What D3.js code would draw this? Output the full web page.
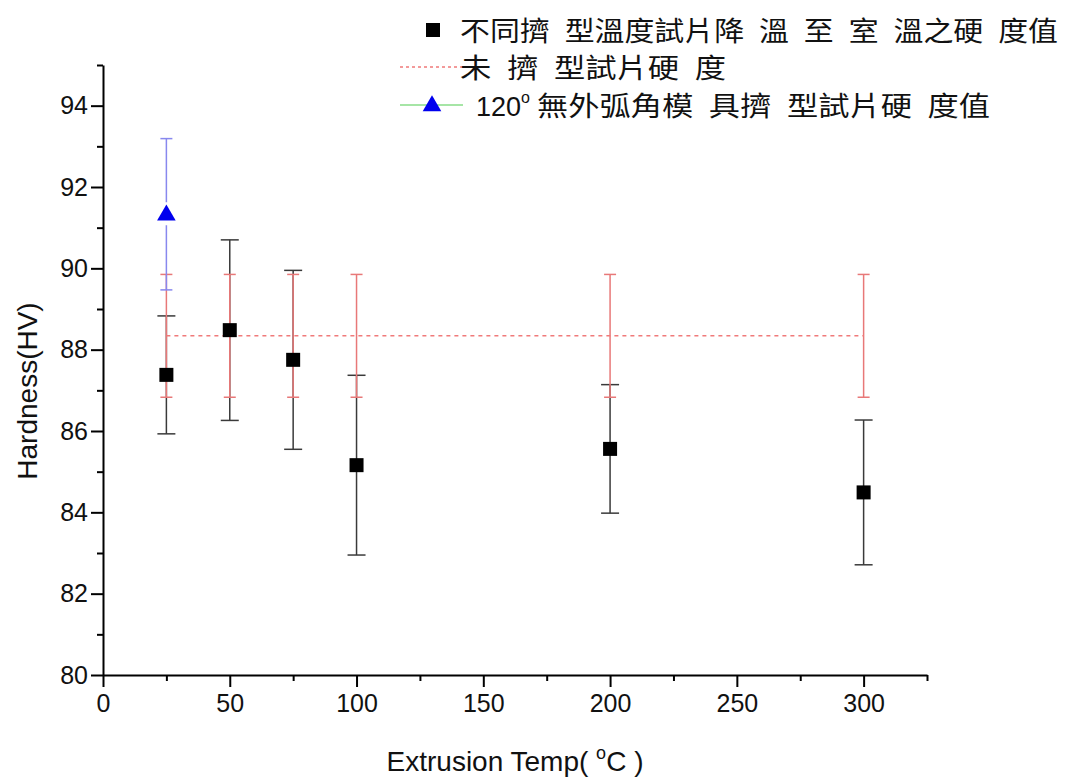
<!DOCTYPE html>
<html><head><meta charset="utf-8">
<script src="https://cdn.jsdelivr.net/npm/d3@7"></script>
<style>
body{margin:0;background:#fff;}
svg{display:block;font-family:"Liberation Sans",Arial,sans-serif;}
</style></head>
<body><svg id="chart" width="1082" height="779"></svg>
<script>
// ---- data ----
const temps = [25, 50, 75, 100, 200, 300];
const hardness = [87.38, 88.48, 87.75, 85.16, 85.56, 84.49];
const hardnessErr = [1.45, 2.22, 2.2, 2.21, 1.58, 1.78];
const baseTemps = [25, 50, 75, 100, 200, 300];
const baseHardness = 88.34;
const baseErr = 1.51;
const dieTemps = [25];
const dieHardness = [91.33];
const dieErr = [1.86];
const xTickVals = [0, 50, 100, 150, 200, 250, 300];
const xMinorVals = [25, 75, 125, 175, 225, 275, 325];
const yTickVals = [80, 82, 84, 86, 88, 90, 92, 94];
const yMinorVals = [81, 83, 85, 87, 89, 91, 93, 95];
const legendLabels = [
  "不同擠\u2002型溫度試片降\u2002溫\u2002至\u2002室\u2002溫之硬\u2002度值",
  "未\u2002擠\u2002型試片硬\u2002度",
  "無外弧角模\u2002具擠\u2002型試片硬\u2002度值"
];

const svg = d3.select("#chart");
const x = d3.scaleLinear().domain([0, 325]).range([103, 927]);
const y = d3.scaleLinear().domain([80, 95]).range([675, 65]);

// axes
svg.append("g").attr("transform", `translate(0,${y(80)})`)
  .call(d3.axisBottom(x).tickValues(xTickVals).tickSize(12).tickSizeOuter(0).tickPadding(7));
const xMinor = svg.append("g").attr("transform", `translate(0,${y(80)})`)
  .call(d3.axisBottom(x).tickValues(xMinorVals).tickSize(6).tickFormat(""));
xMinor.select(".domain").remove();
svg.append("g").attr("transform", `translate(${x(0)},0)`)
  .call(d3.axisLeft(y).tickValues(yTickVals).tickSize(12).tickSizeOuter(0).tickPadding(3));
const yMinor = svg.append("g").attr("transform", `translate(${x(0)},0)`)
  .call(d3.axisLeft(y).tickValues(yMinorVals).tickSize(6).tickFormat(""));
yMinor.select(".domain").remove();
svg.selectAll(".domain").attr("stroke", "#000").attr("stroke-width", 2);
svg.selectAll(".tick line").attr("stroke", "#000").attr("stroke-width", 2);
svg.selectAll(".tick text").attr("font-size", 25).attr("fill", "#111")
  .attr("font-family", "'Liberation Sans', Arial, sans-serif");

// axis titles
svg.append("text").attr("transform", `translate(37,391) rotate(-90)`)
  .attr("text-anchor", "middle").attr("font-size", 28).attr("fill", "#111").text("Hardness(HV)");
const xt = svg.append("text").attr("x", 515).attr("y", 771).attr("text-anchor", "middle")
  .attr("font-size", 28).attr("fill", "#111");
xt.append("tspan").text("Extrusion Temp( ");
xt.append("tspan").attr("font-size", 18).attr("dy", -12).text("o");
xt.append("tspan").attr("dy", 12).text("C )");

// black error bars
const gBlack = svg.append("g").attr("stroke", "#3a3a3a").attr("stroke-width", 1.5);
temps.forEach((t, i) => {
  const cx = x(t), top = y(hardness[i] + hardnessErr[i]), bot = y(hardness[i] - hardnessErr[i]);
  gBlack.append("line").attr("x1", cx).attr("x2", cx).attr("y1", top).attr("y2", bot);
  gBlack.append("line").attr("x1", cx - 9).attr("x2", cx + 9).attr("y1", top).attr("y2", top);
  gBlack.append("line").attr("x1", cx - 9).attr("x2", cx + 9).attr("y1", bot).attr("y2", bot);
});

// red error bars
const gRed = svg.append("g").attr("stroke", "#e87878").attr("stroke-width", 1.5);
baseTemps.forEach(t => {
  const cx = x(t), top = y(baseHardness + baseErr), bot = y(baseHardness - baseErr);
  gRed.append("line").attr("x1", cx).attr("x2", cx).attr("y1", top).attr("y2", bot);
  gRed.append("line").attr("x1", cx - 6).attr("x2", cx + 6).attr("y1", top).attr("y2", top);
  gRed.append("line").attr("x1", cx - 6).attr("x2", cx + 6).attr("y1", bot).attr("y2", bot);
});
// red dashed reference line
svg.append("line").attr("x1", x(d3.min(baseTemps))).attr("x2", x(d3.max(baseTemps)))
  .attr("y1", y(baseHardness)).attr("y2", y(baseHardness))
  .attr("stroke", "#f07a7a").attr("stroke-width", 1.5).attr("stroke-dasharray", "4,4");

// blue error bars
const gBlue = svg.append("g").attr("stroke", "#8888ee").attr("stroke-width", 1.5);
dieTemps.forEach((t, i) => {
  const cx = x(t), cy = y(dieHardness[i]);
  const top = y(dieHardness[i] + dieErr[i]), bot = y(dieHardness[i] - dieErr[i]);
  gBlue.append("line").attr("x1", cx).attr("x2", cx).attr("y1", top).attr("y2", cy - 12);
  gBlue.append("line").attr("x1", cx).attr("x2", cx).attr("y1", cy + 11).attr("y2", bot);
  gBlue.append("line").attr("x1", cx - 6).attr("x2", cx + 6).attr("y1", top).attr("y2", top);
  gBlue.append("line").attr("x1", cx - 6).attr("x2", cx + 6).attr("y1", bot).attr("y2", bot);
});

// squares
svg.append("g").selectAll("rect").data(temps).join("rect")
  .attr("x", d => x(d) - 7).attr("y", (d, i) => y(hardness[i]) - 7)
  .attr("width", 14).attr("height", 14).attr("fill", "#000");

// triangle
const tri = d3.symbol().type(d3.symbolTriangle).size(150);
svg.append("g").selectAll("path").data(dieTemps).join("path")
  .attr("d", tri).attr("transform", (d, i) => `translate(${x(d)},${y(dieHardness[i]) + 1})`)
  .attr("fill", "#0000ee");

// legend
const lg = svg.append("g");
lg.append("rect").attr("x", 426).attr("y", 23).attr("width", 14).attr("height", 14).attr("fill", "#000");
lg.append("line").attr("x1", 400).attr("x2", 463).attr("y1", 67).attr("y2", 67)
  .attr("stroke", "#f07a7a").attr("stroke-width", 1.5).attr("stroke-dasharray", "3,3");
lg.append("line").attr("x1", 400).attr("x2", 463).attr("y1", 105).attr("y2", 105)
  .attr("stroke", "#88dd88").attr("stroke-width", 1.5);
lg.append("path").attr("d", tri).attr("transform", "translate(432,106)").attr("fill", "#0000ee");

const cjk = "'Noto Sans CJK TC','Noto Sans CJK SC',sans-serif";
lg.append("text").attr("x", 460).attr("y", 41).attr("font-family", cjk).attr("font-size", 27)
  .attr("fill", "#111").attr("textLength", 598).attr("lengthAdjust", "spacingAndGlyphs").text(legendLabels[0]);
lg.append("text").attr("x", 460).attr("y", 78).attr("font-family", cjk).attr("font-size", 27)
  .attr("fill", "#111").attr("textLength", 266).attr("lengthAdjust", "spacingAndGlyphs").text(legendLabels[1]);
const r3 = lg.append("text").attr("x", 476).attr("y", 116).attr("font-size", 27).attr("fill", "#111");
r3.append("tspan").text("120");
r3.append("tspan").attr("font-size", 16).attr("dy", -13).text("o");
r3.append("tspan").attr("dy", 13).attr("font-family", cjk).attr("x", 537)
  .attr("textLength", 453).attr("lengthAdjust", "spacingAndGlyphs").text(legendLabels[2]);
</script></body></html>
